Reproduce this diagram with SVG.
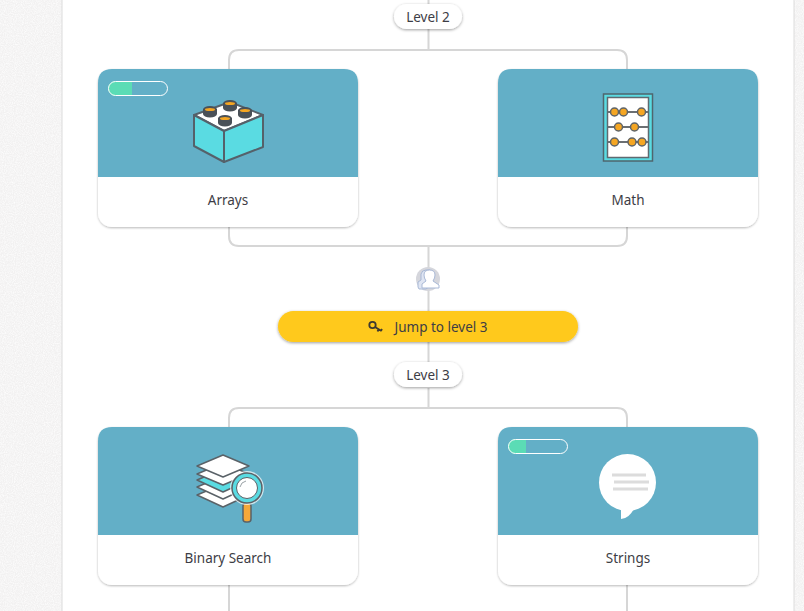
<svg xmlns="http://www.w3.org/2000/svg" width="804" height="611" viewBox="0 0 804 611">
<defs>
<style>
.t{font-family:"Noto Sans","Open Sans",sans-serif;font-size:13.5px;fill:#3d3d45;text-anchor:middle}
.c{fill:none;stroke:#d6d6d6;stroke-width:2}
.card{fill:#fff;filter:url(#cs)}
.hd{fill:#63afc7}
.ol{stroke:#55616a;stroke-width:2;stroke-linejoin:round}
.pill{fill:#fff;filter:url(#ps)}
.sheet{stroke:#5a6268;stroke-width:1.500;stroke-linejoin:round}
.stud{fill:#4a5158}
.top{fill:#f5a623}
</style>
<filter id="cs" x="-10%" y="-10%" width="120%" height="120%"><feDropShadow dx="0" dy="1" stdDeviation="1.200" flood-color="#000" flood-opacity=".28"/></filter>
<filter id="ps" x="-20%" y="-30%" width="140%" height="170%"><feDropShadow dx="0" dy="1" stdDeviation="1.500" flood-color="#000" flood-opacity=".38"/></filter>
<filter id="noise" x="0" y="0" width="100%" height="100%"><feTurbulence type="fractalNoise" baseFrequency=".9" numOctaves="2" seed="3"/><feColorMatrix values="0 0 0 0 1 0 0 0 0 1 0 0 0 0 1 1.600 0 0 0 -.55"/></filter>
<clipPath id="bar"><rect x="0" y="0" width="60" height="15" rx="7.500"/></clipPath>
</defs>
<rect width="804" height="611" fill="#f2f1f1"/>
<rect width="804" height="611" filter="url(#noise)"/>
<rect x="62" y="-2" width="732" height="615" fill="#fff" stroke="#dcdcdc" stroke-width="1"/>
<g id="connectors">
<path class="c" d="M428.500 0V49M229 69V60Q229 50 239 50H617Q627 50 627 60V69"/>
<path class="c" d="M229 227V236Q229 246 239 246H617Q627 246 627 236V227M428.500 246V362"/>
<path class="c" d="M428.500 388V408M229 427V418Q229 408 239 408H617Q627 408 627 418V427"/>
<path class="c" d="M229 585V611M627 585V611"/>
</g>
<g id="level2"><rect class="pill" x="394" y="4" width="68" height="25" rx="12.500"/><text class="t" x="428" y="21.500">Level 2</text></g>
<g id="arrays">
<rect class="card" x="98" y="69" width="260" height="158" rx="14"/>
<path class="hd" d="M98 177V83Q98 69 112 69H344Q358 69 358 83V177Z"/>
<g transform="translate(108 81)"><g clip-path="url(#bar)"><rect width="24" height="15" fill="#5bdcb5"/></g><rect x=".5" y=".5" width="59" height="14" rx="7" fill="none" stroke="#fff"/></g>
<path d="M194 115L230 102L263 115L224 131Z" fill="#fff" class="ol"/>
<path d="M194 115L224 131V162L194 146Z" fill="#5adbe2" class="ol"/>
<path d="M224 131L263 115V147L224 162Z" fill="#5adbe2" class="ol"/>
<rect class="stud" x="203" y="109" width="14" height="5"/><ellipse class="stud" cx="210" cy="114" rx="7" ry="3.500"/><ellipse class="stud" cx="210" cy="109.500" rx="7" ry="3.500"/><ellipse class="top" cx="210" cy="109.500" rx="5" ry="1.500"/>
<rect class="stud" x="223" y="103" width="14" height="5"/><ellipse class="stud" cx="230" cy="108" rx="7" ry="3.500"/><ellipse class="stud" cx="230" cy="103.500" rx="7" ry="3.500"/><ellipse class="top" cx="230" cy="103.500" rx="5" ry="1.500"/>
<rect class="stud" x="238" y="110" width="14" height="5"/><ellipse class="stud" cx="245" cy="115" rx="7" ry="3.500"/><ellipse class="stud" cx="245" cy="110.500" rx="7" ry="3.500"/><ellipse class="top" cx="245" cy="110.500" rx="5" ry="1.500"/>
<rect class="stud" x="218" y="118" width="14" height="5"/><ellipse class="stud" cx="225" cy="123" rx="7" ry="3.500"/><ellipse class="stud" cx="225" cy="118.500" rx="7" ry="3.500"/><ellipse class="top" cx="225" cy="118.500" rx="5" ry="1.500"/>
<text class="t" x="228" y="205">Arrays</text>
</g>
<g id="math">
<rect class="card" x="498" y="69" width="260" height="158" rx="14"/>
<path class="hd" d="M498 177V83Q498 69 512 69H744Q758 69 758 83V177Z"/>
<rect x="603.500" y="94" width="49" height="67" fill="#5adbe2" stroke="#4f666e" stroke-width="1.500"/>
<rect x="607.500" y="97.500" width="41" height="60" fill="#fff" stroke="#5f6a70" stroke-width="1.500"/>
<path d="M608 112H648M608 127H648M608 142H648" stroke="#6b6f72" stroke-width="2"/>
<g fill="#f5a623" stroke="#5f6468" stroke-width="1.500"><circle cx="614.500" cy="112" r="4"/><circle cx="623.500" cy="112" r="4"/><circle cx="641.500" cy="112" r="4"/><circle cx="618.500" cy="127" r="4"/><circle cx="634.500" cy="127" r="4"/><circle cx="614.500" cy="142" r="4"/><circle cx="632" cy="142" r="4"/><circle cx="642" cy="142" r="4"/></g>
<text class="t" x="628" y="205">Math</text>
</g>
<g id="avatar">
<circle cx="428" cy="279" r="12" fill="#d5d6dc"/>
<path d="M418 287V282L421 280V274Q422 270 426 270H430V286L426 289H419Z" fill="#dfe5f2" stroke="#a9b9d6" stroke-width="1"/>
<path d="M422 288V284L426 281Q424 278 424 275Q424 270 429.500 270Q435 270 435 275Q435 278 433 281L439 285V288Z" fill="#fff" stroke="#a9b9d6" stroke-width="1"/>
</g>
<g id="jump">
<rect x="278" y="311" width="300" height="31" rx="15.500" fill="#ffc91b" filter="url(#ps)"/>
<g fill="none" stroke="#3f3a30" stroke-width="1.800"><circle cx="372.500" cy="325" r="3.200"/><path d="M375 327L381.500 331M378.500 329.500L377.500 331.500M381 330.800L382 329"/></g>
<text class="t" x="441" y="332">Jump to level 3</text>
</g>
<g id="level3"><rect class="pill" x="394" y="362" width="68" height="25" rx="12.500"/><text class="t" x="428" y="379.500">Level 3</text></g>
<g id="binary-search">
<rect class="card" x="98" y="427" width="260" height="158" rx="14"/>
<path class="hd" d="M98 535V441Q98 427 112 427H344Q358 427 358 441V535Z"/>
<path class="sheet" d="M197 495L223 484L249 495L223 507Z" fill="#fff"/>
<path class="sheet" d="M197 487L223 476L249 487L223 499Z" fill="#fff"/>
<path class="sheet" d="M197 480L223 469L249 480L223 492Z" fill="#5adbe2"/>
<path class="sheet" d="M197 474L223 463L249 474L223 485Z" fill="#fff"/>
<path class="sheet" d="M197 466L223 455L249 466L223 477Z" fill="#fff"/>
<rect x="243" y="503" width="8" height="19" rx="3" fill="#f5a83a" stroke="#5a6268" stroke-width="1.500"/>
<circle cx="247" cy="488" r="17" fill="#fff" opacity=".7"/>
<circle cx="247" cy="488" r="15" fill="#5adbe2" stroke="#5a6268" stroke-width="1.500"/>
<circle cx="247" cy="488" r="10.500" fill="#fff" stroke="#5a6268" stroke-width="1"/>
<path d="M240 487Q241 482 246 481" fill="none" stroke="#9aa2a6" stroke-width="1"/>
<text class="t" x="228" y="563">Binary Search</text>
</g>
<g id="strings">
<rect class="card" x="498" y="427" width="260" height="158" rx="14"/>
<path class="hd" d="M498 535V441Q498 427 512 427H744Q758 427 758 441V535Z"/>
<g transform="translate(508 439)"><g clip-path="url(#bar)"><rect width="18" height="15" fill="#5bdcb5"/></g><rect x=".5" y=".5" width="59" height="14" rx="7" fill="none" stroke="#fff"/></g>
<circle cx="627.500" cy="482.500" r="28.500" fill="#fff"/>
<path d="M621 505V519Q629 519 635 507Z" fill="#fff"/>
<path d="M612 475H646M614 482H649M613 489H648" stroke="#dcdcdc" stroke-width="3"/>
<text class="t" x="628" y="563">Strings</text>
</g>
</svg>
